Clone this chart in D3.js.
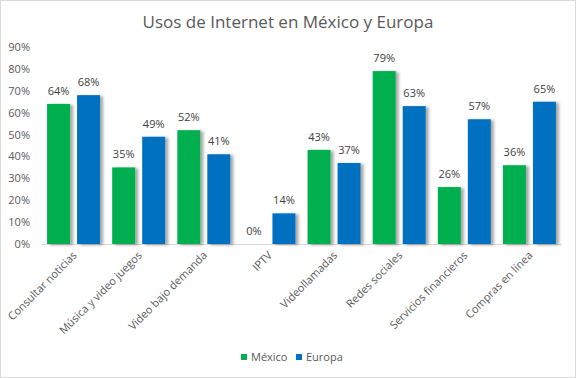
<!DOCTYPE html>
<html><head><meta charset="utf-8">
<script src="https://cdn.jsdelivr.net/npm/d3@7"></script>
<style>body{margin:0;background:#fff;}svg{display:block;font-family:"Open Sans",Calibri,sans-serif;}</style>
</head><body><svg id="c" width="576" height="378"></svg>
<script>
const categories=["Consultar noticias","Música y video juegos","Video bajo demanda","IPTV","Videollamadas","Redes sociales","Servicios financieros","Compras en línea"];
const mexico=[64,35,52,0,43,79,26,36];
const europa=[68,49,41,14,37,63,57,65];
const seriesNames=["México","Europa"];
const colors=["#00b050","#0070c0"];
const yTicks=[0,10,20,30,40,50,60,70,80,90];

const svg=d3.select("#c");
svg.append("rect").attr("x",0.5).attr("y",0.5).attr("width",575).attr("height",377).attr("fill","#fff").attr("stroke","#d9d9d9");
const defs=svg.append("defs");
const f=defs.append("filter").attr("id","sh").attr("x","-20%").attr("y","-5%").attr("width","150%").attr("height","110%");
f.append("feDropShadow").attr("dx",3).attr("dy",1).attr("stdDeviation",1.5).attr("flood-color","#000").attr("flood-opacity",0.35);

const L=41,R=562,T=47,B=244;
const x=d3.scaleBand().domain(categories).range([L,R]);
const y=d3.scaleLinear().domain([0,90]).range([B,T]);
const bw=23,gap=7;

svg.append("text").attr("x",288).attr("y",28).attr("text-anchor","middle").attr("font-size",17).attr("fill","#595959").text("Usos de Internet en México y Europa");

svg.append("g").selectAll("text").data(yTicks).join("text")
 .attr("x",30).attr("y",d=>y(d)+4).attr("text-anchor","end").attr("font-size",11).attr("fill","#595959").text(d=>d+"%");

svg.append("line").attr("x1",L).attr("x2",R).attr("y1",B+0.5).attr("y2",B+0.5).attr("stroke","#d9d9d9");

const data=[mexico,europa];
data.forEach((vals,si)=>{
  const g=svg.append("g");
  const xo=c=>x(c)+x.bandwidth()/2-(bw+gap/2)+si*(bw+gap);
  g.selectAll("rect").data(categories).join("rect")
   .attr("x",c=>xo(c)).attr("width",bw)
   .attr("y",(c,i)=>y(vals[i])).attr("height",(c,i)=>B-y(vals[i]))
   .attr("fill",colors[si]).attr("filter",(c,i)=>vals[i]>0?"url(#sh)":null);
  g.selectAll("text").data(categories).join("text")
   .attr("x",c=>xo(c)+bw/2).attr("y",(c,i)=>y(vals[i])-9)
   .attr("text-anchor","middle").attr("font-size",11).attr("fill","#404040")
   .text((c,i)=>vals[i]+"%");
});

svg.append("g").selectAll("text").data(categories).join("text")
 .attr("transform",c=>`translate(${x(c)+x.bandwidth()/2+4},${B+12}) rotate(-45)`)
 .attr("text-anchor","end").attr("font-size",11).attr("fill","#595959").text(c=>c);

const lg=svg.append("g");
const lx=[241,296];
seriesNames.forEach((n,i)=>{
  lg.append("rect").attr("x",lx[i]).attr("y",354).attr("width",6).attr("height",6).attr("fill",colors[i]);
  lg.append("text").attr("x",lx[i]+10).attr("y",361).attr("font-size",11).attr("fill","#595959").text(n);
});
</script></body></html>
